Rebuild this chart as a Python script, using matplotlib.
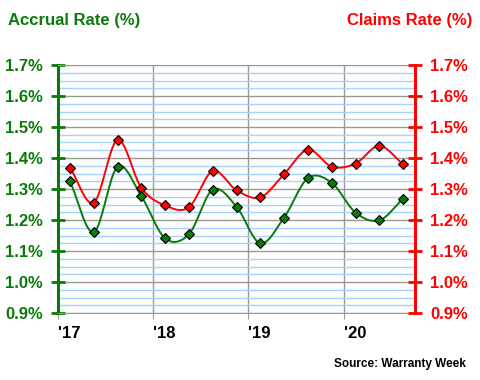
import numpy as np
import matplotlib
matplotlib.use("Agg")
import matplotlib.pyplot as plt
import matplotlib.transforms as mtransforms
from matplotlib.ticker import MultipleLocator, FixedLocator, FuncFormatter

# Data (quarterly, Q1 2017 .. Q3 2020)
quarters = np.arange(15) + 0.5
accrual = [1.325, 1.161, 1.372, 1.277, 1.141, 1.154, 1.298, 1.243,
           1.125, 1.208, 1.335, 1.320, 1.224, 1.199, 1.269]
claims = [1.369, 1.256, 1.458, 1.304, 1.247, 1.241, 1.358, 1.296,
          1.273, 1.348, 1.427, 1.372, 1.382, 1.439, 1.380]
year_ticks = [0, 4, 8, 12]
year_labels = ["'17", "'18", "'19", "'20"]

GREEN = "#0a7a0a"
RED = "#ff0000"

def smooth(x, y, n=20):
    x = np.asarray(x, float); y = np.asarray(y, float)
    px = np.concatenate([[2*x[0]-x[1]], x, [2*x[-1]-x[-2]]])
    py = np.concatenate([[2*y[0]-y[1]], y, [2*y[-1]-y[-2]]])
    xs, ys = [], []
    t = np.linspace(0, 1, n, endpoint=False)
    for i in range(1, len(px)-2):
        for arr, out in ((px, xs), (py, ys)):
            p0, p1, p2, p3 = arr[i-1], arr[i], arr[i+1], arr[i+2]
            out.append(0.5*((2*p1) + (-p0+p2)*t + (2*p0-5*p1+4*p2-p3)*t**2 + (-p0+3*p1-3*p2+p3)*t**3))
    xs = np.concatenate(xs + [[x[-1]]]); ys = np.concatenate(ys + [[y[-1]]])
    return xs, ys

plt.rcParams['font.family'] = ['Liberation Sans', 'DejaVu Sans']
fig = plt.figure(figsize=(4.8, 3.8), dpi=100)
ax = fig.add_axes([58/480, 1-313/380, (415-58)/480, (313-65)/380])

ax.set_xlim(0, 15)
ax.set_ylim(0.9, 1.7)
ax.yaxis.set_major_locator(MultipleLocator(0.1))
ax.yaxis.set_minor_locator(MultipleLocator(0.025))
ax.xaxis.set_major_locator(FixedLocator(year_ticks))
ax.set_xticklabels(year_labels, fontsize=12, fontweight='bold', ha='left')
offset = mtransforms.ScaledTranslation(1/100, 0, fig.dpi_scale_trans)
for lab in ax.get_xticklabels():
    lab.set_transform(lab.get_transform() + offset)
ax.grid(which='minor', axis='y', color='#a6d2ff', lw=1, zorder=0)
ax.grid(which='major', axis='y', color='#999999', lw=1, zorder=0)
ax.grid(which='major', axis='x', color='#999999', lw=1, zorder=0)
ax.set_axisbelow(True)

for sp in ['top', 'bottom']:
    ax.spines[sp].set_color('#999999')
ax.spines['left'].set_color(GREEN); ax.spines['left'].set_linewidth(2.2)
ax.spines['right'].set_color(RED); ax.spines['right'].set_linewidth(2.2)

fmt = FuncFormatter(lambda v, p: f"{v:.1f}%")
ax.yaxis.set_major_formatter(fmt)
ax.tick_params(axis='y', which='major', direction='inout', length=10, width=2,
               colors=GREEN, labelsize=12, pad=6)
ax.tick_params(axis='y', which='minor', length=0)
ax.tick_params(axis='x', direction='out', length=4, color='#999999', pad=5)
for lab in ax.get_yticklabels():
    lab.set_fontweight('bold')

ax2 = ax.twinx()
ax2.set_ylim(0.9, 1.7)
ax2.yaxis.set_major_locator(MultipleLocator(0.1))
ax2.yaxis.set_major_formatter(fmt)
ax2.tick_params(axis='y', direction='inout', length=10, width=2, colors=RED,
                labelsize=12, pad=6)
for lab in ax2.get_yticklabels():
    lab.set_fontweight('bold')
for sp in ax2.spines.values():
    sp.set_visible(False)

sx, sy = smooth(quarters, claims)
ax.plot(sx, sy, color=RED, lw=1.4, zorder=3)
ax.plot(quarters, claims, ls='none', marker='D', ms=5.5, mfc=RED, mec='black', mew=0.8, zorder=4)
gx, gy = smooth(quarters, accrual)
ax.plot(gx, gy, color=GREEN, lw=1.4, zorder=3)
ax.plot(quarters, accrual, ls='none', marker='D', ms=5.5, mfc=GREEN, mec='black', mew=0.8, zorder=4)

fig.text(8/480, 1-20/380, "Accrual Rate (%)", color=GREEN, fontsize=12, fontweight='bold', va='center', ha='left')
fig.text(472/480, 1-20/380, "Claims Rate (%)", color=RED, fontsize=12, fontweight='bold', va='center', ha='right')
fig.text(466/480, 1-364/380, "Source: Warranty Week", color='black', fontsize=8.5, fontweight='bold', va='center', ha='right')

fig.savefig("out.png", dpi=100)
